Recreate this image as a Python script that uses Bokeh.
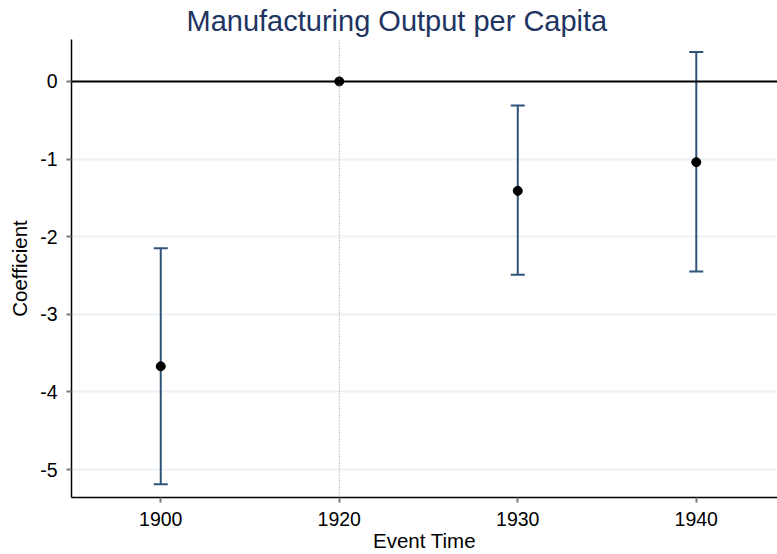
from bokeh.plotting import figure
from bokeh.models import ColumnDataSource, FixedTicker, Span, Range1d
from bokeh.embed import file_html
from bokeh.resources import INLINE

categories = ["1900", "1920", "1930", "1940"]
coef = [-3.67, 0.0, -1.41, -1.04]
ci_low = [-5.19, 0.0, -2.49, -2.45]
ci_high = [-2.15, 0.0, -0.31, 0.38]
y_ticks = [0, -1, -2, -3, -4, -5]

xpos = list(range(len(categories)))
bars = [i for i in xpos if ci_low[i] != ci_high[i]]
src = ColumnDataSource(dict(
    x=[xpos[i] for i in bars],
    lo=[ci_low[i] for i in bars],
    hi=[ci_high[i] for i in bars],
))
pts = ColumnDataSource(dict(x=xpos, y=coef))

FONT = "Liberation Sans"
p = figure(width=777, height=554, output_backend="svg", toolbar_location=None,
           x_range=Range1d(-0.5, 3.455), y_range=Range1d(-5.36, 0.54),
           min_border_left=71, min_border_right=0, min_border_top=0,
           min_border_bottom=10)
p.outline_line_color = None
p.title.text = "Manufacturing Output per Capita"
p.title.align = "left"
p.title.text_font = FONT
p.title.text_font_size = "29px"
p.title.text_font_style = "normal"
p.title.text_color = "#1e3461"
p.title.offset = 115
p.title.standoff = 5

p.xgrid.grid_line_color = None
p.ygrid.grid_line_color = "#eef1f3"
p.ygrid.grid_line_width = 2

p.xaxis.ticker = FixedTicker(ticks=xpos)
p.xaxis.major_label_overrides = {i: c for i, c in zip(xpos, categories)}
p.yaxis.ticker = FixedTicker(ticks=y_ticks)
p.yaxis.major_label_overrides = {t: str(t) for t in y_ticks}

for ax in (p.xaxis[0], p.yaxis[0]):
    ax.axis_line_color = "black"
    ax.axis_line_width = 1.5
    ax.major_tick_line_color = "#777777"
    ax.major_tick_line_width = 2
    ax.major_tick_out = 5
    ax.major_tick_in = 0
    ax.minor_tick_line_color = None
    ax.major_label_text_font = FONT
    ax.major_label_text_font_size = "19.5px"
    ax.major_label_text_color = "black"
    ax.axis_label_text_font = FONT
    ax.axis_label_text_font_size = "20.5px"
    ax.axis_label_text_font_style = "normal"
    ax.axis_label_text_color = "black"
p.xaxis.axis_label = "Event Time"
p.yaxis.axis_label = "Coefficient"
p.xaxis.major_label_standoff = 9
p.xaxis.axis_label_standoff = 0
p.yaxis.major_label_standoff = 9
p.yaxis.axis_label_standoff = 6

p.add_layout(Span(location=1, dimension="height", line_color="#888888",
                  line_dash="1 2", line_width=1))
p.add_layout(Span(location=0, dimension="width", line_color="black",
                  line_width=2))

col = "#2f5479"
p.segment(x0="x", x1="x", y0="lo", y1="hi", source=src, line_color=col, line_width=2)
p.dash(x="x", y="lo", source=src, size=14, line_color=col, line_width=2)
p.dash(x="x", y="hi", source=src, size=14, line_color=col, line_width=2)
p.scatter(x="x", y="y", source=pts, size=9, fill_color="black", line_color="black")

open("out.html", "w").write(file_html(p, INLINE))
